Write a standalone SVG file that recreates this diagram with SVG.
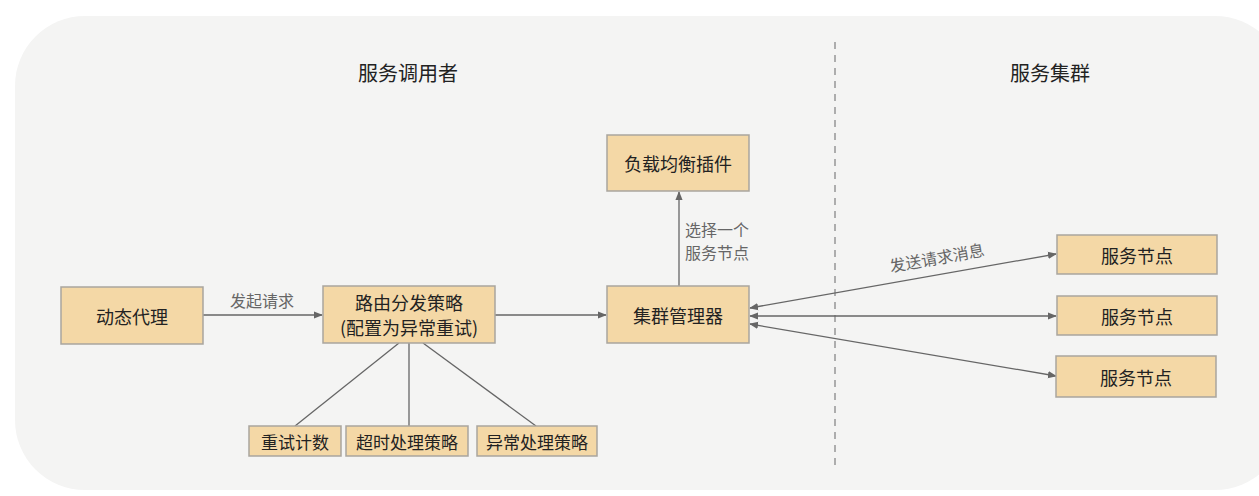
<svg xmlns="http://www.w3.org/2000/svg" width="1259" height="496" viewBox="0 0 1259 496">
<style>
text{font-family:"Noto Sans CJK SC","Noto Sans",sans-serif;fill:#222}
.box{fill:#f4d8a6;stroke:#a9a59e;stroke-width:1.5}
.t{font-size:18px;text-anchor:middle;dominant-baseline:central}
.s{font-size:17px;text-anchor:middle;dominant-baseline:central}
.lbl{font-size:16px;fill:#666}
.title{font-size:20px;text-anchor:middle;dominant-baseline:central}
.ln{stroke:#666;stroke-width:1.3;fill:none}
</style>
<defs>
<marker id="ah" viewBox="0 0 10 10" refX="9" refY="5" markerWidth="9" markerHeight="9" markerUnits="userSpaceOnUse" orient="auto-start-reverse">
<path d="M0,1 L10,5 L0,9 z" fill="#666"/>
</marker>
</defs>
<rect x="0" y="0" width="1259" height="496" fill="#ffffff"/>
<rect x="15" y="16" width="1270" height="474" rx="70" ry="70" fill="#f4f4f3"/>
<line x1="835" y1="42" x2="835" y2="465" stroke="#888" stroke-width="1.3" stroke-dasharray="7,6"/>
<text class="title" x="408" y="72">服务调用者</text>
<text class="title" x="1050" y="72">服务集群</text>
<g id="connectors">
<line class="ln" x1="203" y1="315" x2="322" y2="315" marker-end="url(#ah)"/>
<line class="ln" x1="495" y1="315" x2="606" y2="315" marker-end="url(#ah)"/>
<line class="ln" x1="679" y1="286" x2="679" y2="192" marker-end="url(#ah)"/>
<line class="ln" x1="399" y1="343" x2="295" y2="426"/>
<line class="ln" x1="409" y1="343" x2="409" y2="426"/>
<line class="ln" x1="423" y1="343" x2="536" y2="426"/>
<line class="ln" x1="750" y1="308" x2="1056" y2="254" marker-start="url(#ah)" marker-end="url(#ah)"/>
<line class="ln" x1="750" y1="316" x2="1056" y2="316" marker-start="url(#ah)" marker-end="url(#ah)"/>
<line class="ln" x1="750" y1="324" x2="1056" y2="376" marker-start="url(#ah)" marker-end="url(#ah)"/>
<text class="lbl" x="262" y="307" text-anchor="middle">发起请求</text>
<text class="lbl" x="685" y="236">选择一个</text>
<text class="lbl" x="685" y="259">服务节点</text>
<text class="lbl" x="937" y="264" text-anchor="middle" transform="rotate(-10 937 258)">发送请求消息</text>
</g>
<g id="dynamic-proxy"><rect class="box" x="61" y="287" width="142" height="57"/><text class="t" x="132" y="315.5">动态代理</text></g>
<g id="route"><rect class="box" x="323" y="286" width="172" height="57"/><text class="t" x="409" y="302">路由分发策略</text><text class="t" x="409" y="327">(配置为异常重试)</text></g>
<g id="cluster-manager"><rect class="box" x="607" y="286" width="142" height="57"/><text class="t" x="678" y="314.5">集群管理器</text></g>
<g id="lb-plugin"><rect class="box" x="607" y="135" width="142" height="56"/><text class="t" x="678" y="163">负载均衡插件</text></g>
<g id="node1"><rect class="box" x="1057" y="235" width="160" height="39"/><text class="t" x="1137" y="254.5">服务节点</text></g>
<g id="node2"><rect class="box" x="1057" y="296" width="160" height="39"/><text class="t" x="1137" y="315.5">服务节点</text></g>
<g id="node3"><rect class="box" x="1056" y="356" width="160" height="41"/><text class="t" x="1136" y="376.5">服务节点</text></g>
<g id="retry-count"><rect class="box" x="249" y="426" width="92" height="30"/><text class="s" x="295" y="441">重试计数</text></g>
<g id="timeout"><rect class="box" x="346" y="426" width="122" height="30"/><text class="s" x="407" y="441">超时处理策略</text></g>
<g id="exception"><rect class="box" x="477" y="426" width="120" height="30"/><text class="s" x="537" y="441">异常处理策略</text></g>
</svg>
